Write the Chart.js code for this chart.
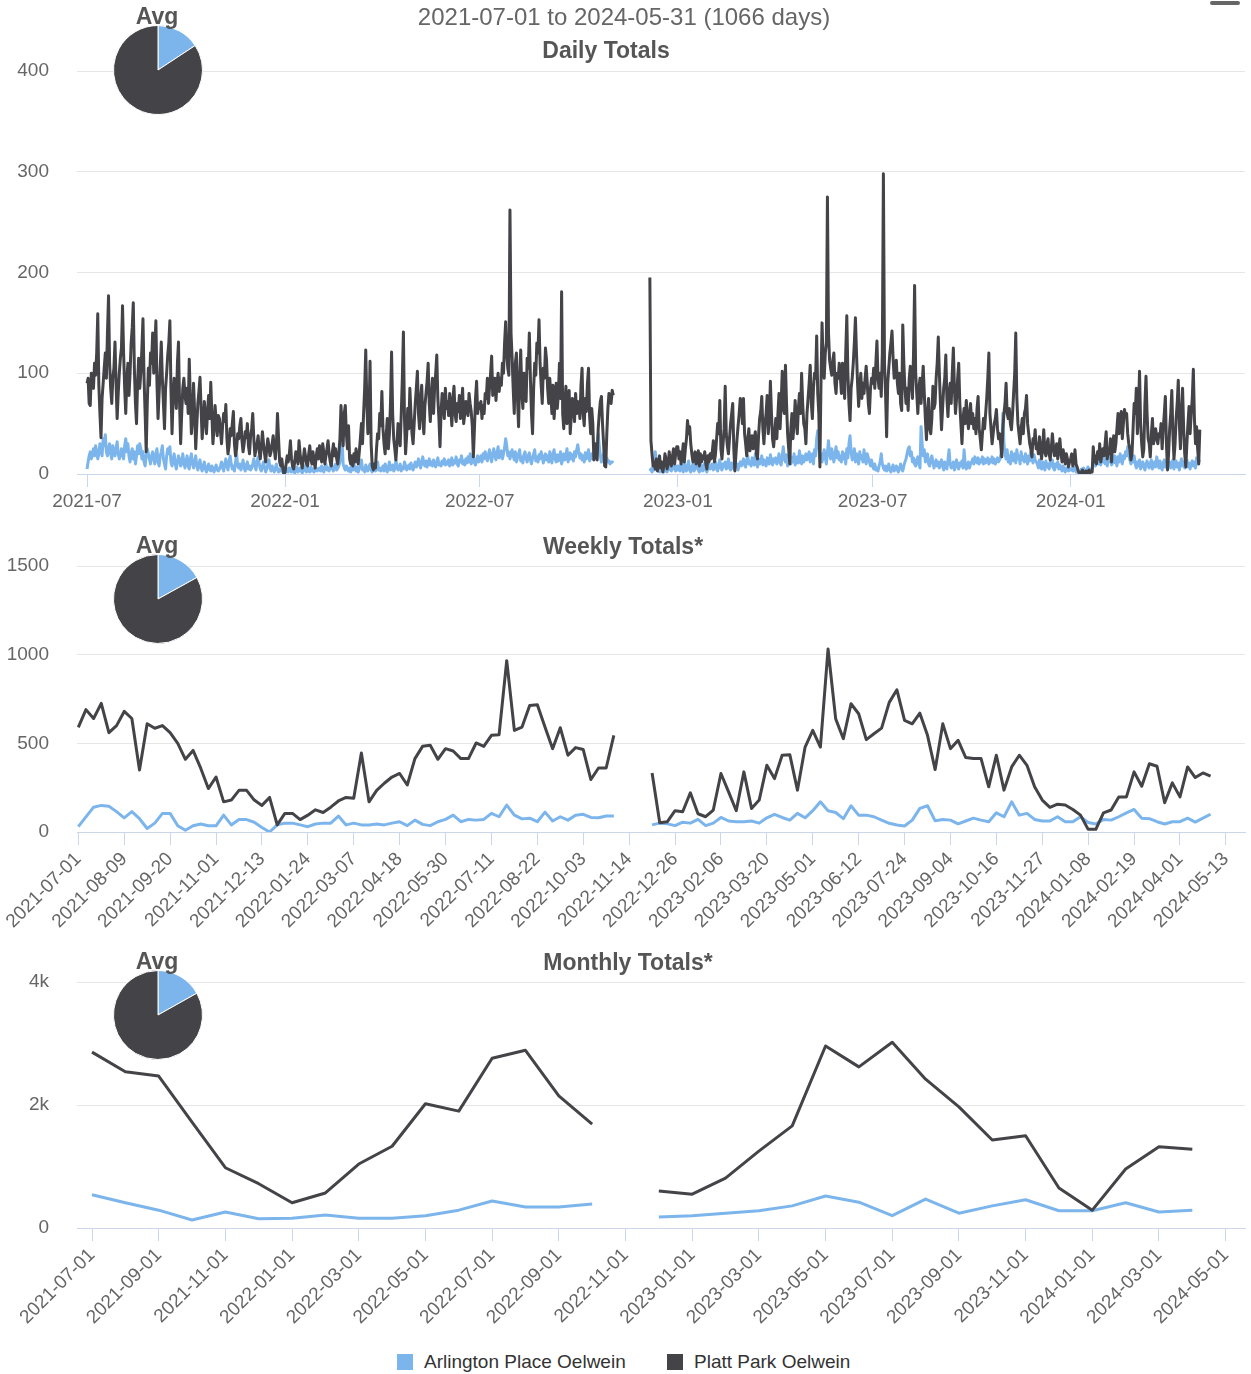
<!DOCTYPE html>
<html lang="en">
<head>
<meta charset="UTF-8">
<title>Daily / Weekly / Monthly Totals</title>
<script src="https://cdn.jsdelivr.net/npm/chart.js"></script>
<style>
  body { margin: 0; background: #fff; font-family: "Liberation Sans", Arial, sans-serif; }
  .page { position: relative; width: 1251px; height: 1374px; overflow: hidden; }
  .page canvas { position: absolute; }
  .txt { position: absolute; transform: translate(-50%, -50%); white-space: nowrap; z-index: 2; }
  .title { font-size: 23px; font-weight: bold; color: #555; }
  .sub { font-size: 24px; color: #666; }
  .leg { position: absolute; top: 1352px; height: 20px; display: flex; align-items: center; font-size: 19px; color: #333; }
  .leg span { display: inline-block; width: 16px; height: 16px; margin-right: 11px; }
  .menu { position: absolute; left: 1210px; top: 1px; width: 30px; height: 4px; background: #666; border-radius: 2px; }
</style>
</head>
<body>
<div class="page">
  <canvas id="daily" width="1251" height="520" style="top:0;left:0"></canvas>
  <canvas id="weekly" width="1251" height="420" style="top:520px;left:0"></canvas>
  <canvas id="monthly" width="1251" height="400" style="top:940px;left:0"></canvas>

  <canvas id="pie1" width="90" height="90" style="top:25px;left:113px"></canvas>
  <canvas id="pie2" width="90" height="90" style="top:554px;left:113px"></canvas>
  <canvas id="pie3" width="90" height="90" style="top:970px;left:113px"></canvas>

  <div class="txt sub" style="left:624px;top:17px">2021-07-01 to 2024-05-31 (1066 days)</div>
  <div class="txt title" style="left:606px;top:50px">Daily Totals</div>
  <div class="txt title" style="left:623px;top:546px">Weekly Totals*</div>
  <div class="txt title" style="left:628px;top:962px">Monthly Totals*</div>
  <div class="txt title" style="left:157px;top:16px">Avg</div>
  <div class="txt title" style="left:157px;top:545px">Avg</div>
  <div class="txt title" style="left:157px;top:961px">Avg</div>

  <div class="leg" style="left:397px"><span style="background:#7cb5ec"></span>Arlington Place Oelwein</div>
  <div class="leg" style="left:667px"><span style="background:#434348"></span>Platt Park Oelwein</div>
  <div class="menu"></div>
</div>

<script>
const seriesNames = ['Arlington Place Oelwein', 'Platt Park Oelwein'];
const blue = '#7cb5ec';
const dark = '#434348';

// ---- daily (x = days since 2021-07-01) ----
const dailyTickDays = [0, 184, 365, 549, 730, 914];
const dailyTickLabels = ['2021-07', '2022-01', '2022-07', '2023-01', '2023-07', '2024-01'];
const dailyBlockStart = [0, 184, 523, 914]; // 2021-07-01, 2022-01-01, 2022-12-06, 2024-01-01

const plattJul21 = [
  90,95,70,68,100,92,85,110,98,120,159,88,60,36,75,90,105,120,95,140,177,110,85,70,95,105,131,90,55,80,100,
  115,125,167,120,85,60,95,110,78,100,130,145,170,105,70,50,90,115,85,100,125,154,95,60,22,70,105,88,120,110,140,
  100,125,152,90,55,80,105,131,95,70,45,85,100,118,130,152,85,40,75,95,80,65,110,131,70,30,60,85,95,78,
  70,85,60,114,75,40,55,90,62,25,48,70,82,96,65,35,50,72,58,40,62,78,55,91,60,30,45,68,52,38,58,
  55,42,30,48,60,52,69,35,20,28,45,38,50,62,30,18,25,40,35,48,55,33,22,30,42,36,50,28,20,38,
  45,60,35,18,25,30,38,22,15,28,42,30,20,12,25,35,28,18,22,30,38,25,15,30,60,35,12,8,15,5,0
];
const plattJan22 = [
  2,10,18,12,20,33,15,8,5,12,22,18,10,33,20,12,6,15,25,18,10,8,20,28,15,10,22,12,6,18,25,
  15,28,20,12,30,22,10,18,25,33,20,12,8,22,30,18,25,15,10,20,35,68,45,28,60,68,40,25,
  48,15,10,18,8,20,12,25,15,10,22,35,50,30,60,85,123,70,40,55,112,30,8,4,10,6,25,40,35,60,48,
  82,45,30,20,38,55,25,40,70,121,60,35,25,14,30,50,42,28,60,95,141,55,20,38,65,45,85,60,40,30,
  50,70,85,102,60,45,75,88,55,40,68,80,92,110,70,52,78,95,60,85,100,118,75,55,27,62,80,70,55,85,65,
  72,58,80,65,48,75,87,60,52,70,62,78,55,68,85,50,60,72,65,58,80,70,62,48,17,45,75,92,60,70,
  65,72,55,68,60,80,75,95,70,85,100,117,78,88,95,73,90,100,82,95,88,110,100,130,151,120,105,98,262,140,115,
  85,60,110,120,75,47,95,123,80,65,100,90,72,115,105,140,95,60,40,85,110,98,130,120,153,110,88,70,105,95,125,
  113,85,70,95,78,60,88,55,72,90,65,80,110,75,181,60,45,70,87,50,62,83,40,58,75,68,52,80,60,72,
  70,55,88,105,60,48,75,62,90,105,58,40,65,50,14,30,22,14,45,60,72,77,50,30,8,7,40,65,80,73,70,
  83,78
];
const plattDec22 = [
  195,33,20,8,12,5,15,3,10,18,6,12,2,8,20,15,5,10,22,12,8,18,25,10,20,27,
  27,15,22,10,18,30,12,25,35,53,40,47,30,20,12,18,22,10,15,23,8,20,12,18,15,22,10,5,18,12,20,
  15,22,33,12,20,35,50,40,73,25,15,30,45,87,40,28,20,35,50,60,70,25,3,20,35,48,60,75,
  70,50,75,40,30,18,35,45,23,30,38,25,35,42,20,15,38,55,62,77,45,30,50,60,78,40,55,92,60,35,27,
  40,55,35,60,80,45,70,102,65,60,108,70,40,25,10,45,60,35,50,73,55,40,65,80,60,100,70,50,45,30,
  60,75,90,108,70,55,85,100,95,137,80,60,7,90,150,110,95,120,130,275,140,113,105,98,113,120,90,80,100,95,110,
  97,80,110,95,75,120,157,100,70,53,85,95,110,130,155,120,90,67,85,100,75,90,80,95,107,90,70,60,85,95,
  90,105,85,110,132,95,85,100,77,120,298,110,80,37,90,105,120,130,142,115,95,100,113,90,80,100,70,63,148,110,85,
  70,85,63,95,107,90,75,120,187,100,80,60,85,95,70,90,107,80,55,34,60,75,45,40,55,87,65,70,95,110,136,
  100,70,44,65,85,95,118,75,57,80,90,70,100,125,85,60,75,95,110,70,50,30,55,65,50,73,60,45,55,70,
  50,60,45,55,40,65,77,45,35,24,40,55,45,60,75,95,120,60,45,30,40,50,55,64,45,35,40,30,17,45,60,
  70,90,60,55,65,50,44,60,80,100,140,75,50,40,30,45,55,40,60,65,78,50,40,30,25,17,35,30,44,25,
  30,20,37,25,15,28,44,22,18,30,35,20,14,25,40,28,18,22,30,15,25,35,20,12,24,18,10,20,15,7,12
];
const plattJan24 = [
  15,20,8,12,24,10,7,3,1,0,2,4,0,1,3,0,2,4,1,3,2,27,12,18,10,22,15,30,12,20,25,
  18,30,42,15,25,20,35,12,28,38,22,30,45,60,40,55,62,35,50,64,58,60,40,30,25,14,20,45,70,
  60,85,40,65,102,50,30,17,25,70,97,60,35,30,17,40,55,30,37,45,35,30,40,37,50,25,45,60,77,30,4,
  20,45,60,83,40,15,30,55,70,93,50,25,60,85,45,20,7,30,50,67,40,60,75,104,55,30,47,25,10,44
];

const arlJul21 = [
  5,12,18,22,15,20,25,18,28,22,15,20,30,25,18,35,28,39,22,18,25,30,20,15,28,22,18,25,32,20,15,
  18,25,20,15,28,35,22,30,18,12,20,25,15,22,10,18,28,20,30,25,15,22,12,8,18,25,20,15,10,18,22,
  15,10,20,25,12,8,18,22,28,15,10,5,18,25,20,27,12,8,15,20,10,5,12,18,15,8,10,20,12,6,
  12,18,8,5,15,20,10,6,12,18,8,4,10,14,6,3,8,12,5,2,7,10,4,3,8,6,2,5,9,4,3,
  5,8,12,6,3,10,15,8,4,12,18,10,5,8,3,12,20,8,6,10,4,8,14,6,3,9,12,5,8,4,
  6,10,15,8,4,12,17,10,5,3,8,12,6,2,5,10,14,6,3,8,5,2,6,10,4,2,5,3,6,2,0
];
const arlJan22 = [
  1,3,5,2,6,4,2,8,3,1,5,7,2,4,6,3,1,5,8,3,2,6,4,2,7,3,5,2,4,6,3,
  4,6,3,8,5,2,7,10,4,6,3,8,12,5,3,7,10,4,6,8,12,46,35,10,6,4,8,5,
  3,6,2,8,4,10,5,3,7,2,5,8,14,4,6,2,9,5,3,7,10,4,2,6,8,3,5,12,4,6,3,
  5,8,3,10,6,2,7,12,4,6,9,3,5,14,8,4,6,10,3,7,5,12,8,4,6,9,5,11,7,4,
  8,12,7,10,15,9,6,12,17,10,8,13,7,11,15,9,12,8,14,10,7,12,16,9,11,8,13,10,15,9,12,
  10,14,8,12,16,9,13,11,17,10,8,14,12,18,10,13,9,15,11,17,12,20,10,14,16,11,9,15,18,12,
  14,18,12,20,15,22,17,13,19,24,16,12,20,25,18,14,21,27,16,19,23,15,20,26,35,28,18,22,15,20,24,
  18,14,22,12,16,20,24,13,17,11,19,22,15,12,18,21,14,10,16,20,24,13,17,12,19,15,22,18,11,16,20,
  14,18,12,22,16,11,20,24,15,12,19,13,17,22,10,15,20,14,18,25,12,16,21,15,19,13,22,17,24,29,
  22,16,20,14,18,12,21,15,19,24,13,17,20,15,22,18,25,30,40,28,18,12,15,20,14,11,16,12,13,10,12,
  12,11
];
const arlDec22 = [
  3,5,2,8,4,22,15,6,3,2,5,8,4,2,3,6,2,5,10,4,3,7,12,5,3,8,
  4,8,3,10,6,2,12,5,3,8,13,4,2,7,10,3,5,20,8,4,2,6,9,3,5,11,4,2,7,10,5,
  6,10,4,8,12,5,3,9,14,6,4,10,7,12,5,8,15,6,4,11,8,5,13,7,10,4,9,12,
  8,12,15,9,7,14,18,10,12,8,16,11,9,20,13,7,15,10,12,18,9,14,11,8,16,12,10,19,13,9,15,
  12,16,10,14,20,11,9,18,27,15,12,19,8,14,22,10,16,12,20,9,13,17,11,23,14,10,18,12,15,20,
  14,18,22,12,16,20,10,24,18,35,43,28,15,20,12,18,24,16,10,22,33,20,15,25,18,12,20,27,16,22,14,
  18,12,22,15,20,10,25,16,30,38,22,14,18,25,12,20,16,10,22,15,18,12,24,14,10,20,16,12,8,14,
  8,5,10,4,6,3,8,12,20,10,6,4,8,3,5,10,4,2,6,9,3,5,8,4,2,6,10,5,3,8,12,
  15,20,25,27,18,22,12,16,10,8,14,17,10,6,47,30,18,24,12,15,20,10,8,14,18,12,6,10,14,8,12,
  6,10,14,8,4,12,9,5,14,24,10,6,8,12,4,9,14,7,5,11,8,13,6,24,10,5,8,12,6,10,
  12,15,10,17,13,11,16,10,14,12,17,10,15,11,13,16,10,14,12,17,11,15,10,13,16,12,14,18,25,60,30,
  20,15,24,12,18,10,22,16,13,20,11,24,15,18,10,22,14,17,12,20,15,10,18,13,22,16,11,19,14,12,
  10,6,14,8,5,12,9,4,13,7,10,5,12,8,14,6,4,10,7,12,5,9,6,3,8,5,2,6,4,3,5
];
const arlJan24 = [
  4,6,3,5,7,2,4,1,0,3,5,2,6,1,4,2,7,3,5,2,6,10,14,8,12,18,10,15,9,20,12,
  14,10,18,8,16,12,20,9,15,11,18,13,8,17,12,20,14,10,18,15,22,18,27,20,14,10,16,12,18,
  10,6,12,8,14,5,9,12,7,4,10,13,8,6,11,14,5,9,12,7,17,10,6,13,8,4,11,14,7,9,12,
  8,12,6,10,14,5,9,13,7,11,4,10,15,8,12,6,9,14,7,11,5,10,13,8,12,6,16,10,14,12
];

// ---- weekly (index = week, week 0 starts 2021-07-01) ----
const weekTickIdx = [0,6,12,18,24,30,36,42,48,54,60,66,72,78,84,90,96,102,108,114,120,126,132,138,144,150];
const weekTickLabels = ['2021-07-01','2021-08-09','2021-09-20','2021-11-01','2021-12-13','2022-01-24',
  '2022-03-07','2022-04-18','2022-05-30','2022-07-11','2022-08-22','2022-10-03','2022-11-14','2022-12-26',
  '2023-02-06','2023-03-20','2023-05-01','2023-06-12','2023-07-24','2023-09-04','2023-10-16','2023-11-27',
  '2024-01-08','2024-02-19','2024-04-01','2024-05-13'];
const plattWeekly = [
  590,690,640,725,560,600,680,640,350,610, 585,600,560,500,410,460,360,245,310,170,
  180,235,235,180,150,195,40,105,105,70, 95,125,110,140,175,195,190,445,170,235,
  275,310,330,265,414,483,489,410,470,457, 414,414,502,483,545,549,966,573,592,713,
  717,592,470,588,433,476,465,296,361,361, 545,null,null,null,null,333,52,58,120,114,
  221,103,86,124,330,226,120,339,133,180, 376,301,433,436,236,479,573,479,1032,638,
  526,723,667,521,554,586,731,802,629,610, 670,545,352,610,470,517,420,414,414,255,
  433,236,367,433,376,255,180,139,157,152, 127,95,15,15,108,124,198,198,339,258,
  385,371,165,277,198,367,307,333,315
];
const arlWeekly = [
  30,85,140,150,145,115,80,115,75,20, 50,105,105,35,10,35,45,35,35,95,
  40,70,70,55,25,0,40,50,50,40, 30,45,50,50,90,40,50,40,40,45,
  40,50,58,36,67,43,36,58,71,95, 58,71,67,71,105,86,152,95,74,78,
  58,112,62,86,67,95,100,82,80,90, 90,null,null,null,null,40,50,46,36,55,
  50,71,36,50,82,62,58,58,62,50, 80,100,82,67,105,80,120,170,120,110,
  75,148,95,95,86,67,49,39,34,67, 133,148,63,71,67,46,62,78,67,58,
  108,86,170,95,105,71,62,62,86,58, 58,86,54,45,71,67,86,108,127,78,
  75,58,45,58,58,78,56,78,100
];

// ---- monthly (index = month from 2021-07) ----
const monthTickIdx = [0,2,4,6,8,10,12,14,16,18,20,22,24,26,28,30,32,34];
const monthTickLabels = ['2021-07-01','2021-09-01','2021-11-01','2022-01-01','2022-03-01','2022-05-01',
  '2022-07-01','2022-09-01','2022-11-01','2023-01-01','2023-03-01','2023-05-01','2023-07-01','2023-09-01',
  '2023-11-01','2024-01-01','2024-03-01','2024-05-01'];
const plattMonthly = [2860,2540,2470,1720,980,720,410,570,1040,1330,2020,1900,2760,2890,2150,1690,null,
  600,550,810,1250,1660,2960,2620,3020,2420,1970,1430,1500,650,290,960,1320,1280,null];
const arlMonthly = [540,410,290,130,260,150,160,210,160,160,200,290,440,340,340,390,null,
  180,200,240,280,360,520,420,200,470,240,360,460,280,280,410,260,290,null];

// ---- averages for the pies [Arlington, Platt] ----
const avgDaily = [9.6, 51.4];
const avgWeekly = [67, 328];
const avgMonthly = [290, 1430];

Chart.defaults.font.family = '"Liberation Sans", Arial, sans-serif';
Chart.defaults.color = '#666';

function dailyPoints(blocks) {
  const pts = [];
  blocks.forEach((vals, k) => {
    if (k === 2) pts.push({ x: 506, y: null }); // no data between 2022-11-02 and 2022-12-06
    vals.forEach((v, i) => pts.push({ x: dailyBlockStart[k] + i, y: v }));
  });
  return pts;
}
const indexed = arr => arr.map((v, i) => ({ x: i, y: v }));

function xAxis(min, max, tickVals, tickLabels, rot, height) {
  return {
    type: 'linear', min: min, max: max,
    afterBuildTicks: s => { s.ticks = tickVals.map(v => ({ value: v })); },
    afterFit: s => { s.height = height; s.paddingLeft = 0; s.paddingRight = 0; },
    ticks: { autoSkip: false, minRotation: rot, maxRotation: rot, padding: 3,
             font: { size: 19 }, callback: (v, i) => tickLabels[i] },
    grid: { drawOnChartArea: false, drawTicks: true, tickLength: 13, color: '#ccd6eb' },
    border: { color: '#ccd6eb' }
  };
}
function yAxis(max, step, fmt) {
  return {
    min: 0, max: max,
    afterFit: s => { s.width = 77; },
    ticks: { stepSize: step, padding: 28, font: { size: 19 }, callback: fmt },
    grid: { color: '#e6e6e6', drawTicks: false },
    border: { display: false }
  };
}
function lines(arlData, plattData) {
  return [
    { label: seriesNames[0], data: arlData, borderColor: blue, order: 2 },
    { label: seriesNames[1], data: plattData, borderColor: dark, order: 1 }
  ].map(d => Object.assign(d, { borderWidth: 3, pointRadius: 0, tension: 0, spanGaps: false, borderJoinStyle: 'round' }));
}
function lineChart(id, datasets, x, y, top) {
  new Chart(document.getElementById(id), {
    type: 'line',
    data: { datasets: datasets },
    options: {
      responsive: false, animation: false,
      layout: { padding: { top: top, right: 6, left: 0, bottom: 0 } },
      plugins: { legend: { display: false }, tooltip: { enabled: false } },
      scales: { x: x, y: y }
    }
  });
}
function pieChart(id, values) {
  new Chart(document.getElementById(id), {
    type: 'pie',
    data: { labels: seriesNames, datasets: [{ data: values, backgroundColor: [blue, dark], borderColor: '#fff', borderWidth: 1 }] },
    options: { responsive: false, animation: false, plugins: { legend: { display: false }, tooltip: { enabled: false } } }
  });
}

lineChart('daily',
  lines(dailyPoints([arlJul21, arlJan22, arlDec22, arlJan24]), dailyPoints([plattJul21, plattJan22, plattDec22, plattJan24])),
  xAxis(-9.3, 1076, dailyTickDays, dailyTickLabels, 0, 46),
  yAxis(400, 100), 71);

lineChart('weekly',
  lines(indexed(arlWeekly), indexed(plattWeekly)),
  xAxis(-0.17, 152.5, weekTickIdx, weekTickLabels, 45, 108),
  yAxis(1500, 500), 46);

lineChart('monthly',
  lines(indexed(arlMonthly), indexed(plattMonthly)),
  xAxis(-0.45, 34.58, monthTickIdx, monthTickLabels, 45, 112),
  yAxis(4000, 2000, v => v === 0 ? '0' : (v / 1000) + 'k'), 42);

pieChart('pie1', avgDaily);
pieChart('pie2', avgWeekly);
pieChart('pie3', avgMonthly);
</script>
</body>
</html>
